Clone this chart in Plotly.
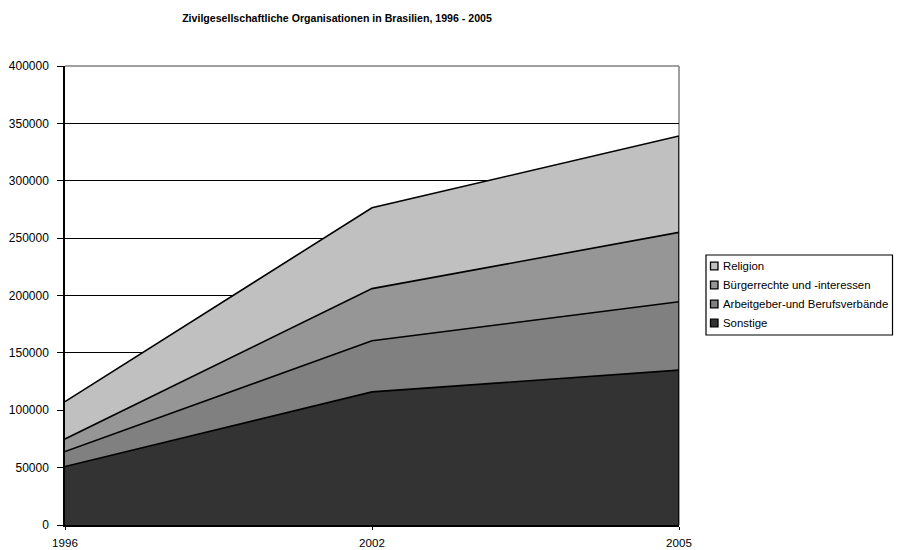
import plotly.graph_objects as go

years = ["1996", "2002", "2005"]
sonstige = [51000, 116000, 135000]
arbeitgeber = [13000, 44500, 59500]
buerger = [11000, 45500, 60500]
religion = [32500, 70500, 84000]

series = [
    ("Sonstige", sonstige, "#333333"),
    ("Arbeitgeber-und Berufsverbände", arbeitgeber, "#808080"),
    ("Bürgerrechte und -interessen", buerger, "#969696"),
    ("Religion", religion, "#c0c0c0"),
]

xpos = list(range(len(years)))
FONT = "Liberation Sans, Arial, sans-serif"

# page offset of the plot div (body margin)
OFF = 8
FW, FH = 902 - OFF, 550 - OFF
# plot-area geometry (target pixels in the window)
L, R, T, B = 65, 679, 66, 525
W, H = R - L, B - T


def px_x(p):
    return (p - L) / W


def px_y(p):
    return (B - p) / H


fig = go.Figure()
for name, vals, col in series:
    fig.add_trace(go.Scatter(
        x=xpos, y=vals, stackgroup="one", name=name,
        mode="lines", line=dict(color="black", width=1.6),
        fillcolor=col, showlegend=False, hoverinfo="skip",
    ))

# right edge of the stacked areas
total_last = sum(v[-1] for _, v, _ in series)
fig.add_trace(go.Scatter(x=[xpos[-1], xpos[-1]], y=[0, total_last], mode="lines",
                         line=dict(color="black", width=1.6), showlegend=False,
                         hoverinfo="skip"))

shapes = [
    dict(type="line", xref="paper", yref="paper", x0=0, x1=1, y0=1, y1=1,
         line=dict(color="#808080", width=1.5), layer="above"),
    dict(type="line", xref="paper", yref="paper", x0=1, x1=1, y0=0, y1=1,
         line=dict(color="#808080", width=1.5), layer="below"),
    # legend box
    dict(type="rect", xref="paper", yref="paper",
         x0=px_x(706), x1=px_x(892.5), y0=px_y(255), y1=px_y(335),
         line=dict(color="black", width=1.2), fillcolor="white", layer="above"),
]
annotations = []
legend_rows = [266, 285, 304, 323]
for (name, vals, col), yc in zip(reversed(series), legend_rows):
    shapes.append(dict(type="rect", xref="paper", yref="paper",
                       x0=px_x(710.5), x1=px_x(718), y0=px_y(yc - 3.8), y1=px_y(yc + 3.8),
                       line=dict(color="black", width=1.3), fillcolor=col, layer="above"))
    annotations.append(dict(text=name, xref="paper", yref="paper",
                            x=px_x(720.5), y=px_y(yc), xanchor="left", yanchor="middle",
                            showarrow=False, font=dict(size=11.4, family=FONT, color="black")))

fig.update_layout(
    width=FW, height=FH,
    margin=dict(l=L - OFF, r=902 - R, t=T - OFF, b=550 - B, autoexpand=False),
    paper_bgcolor="white", plot_bgcolor="white",
    font=dict(family=FONT, size=12, color="black"),
    title=dict(text="<b>Zivilgesellschaftliche Organisationen in Brasilien, 1996 - 2005</b>",
               x=(337 - OFF) / FW, xanchor="center", y=1 - (18 - OFF) / FH, yanchor="middle",
               font=dict(size=10.6, family=FONT)),
    showlegend=False,
    shapes=shapes,
    annotations=annotations,
)

fig.update_xaxes(
    range=[0, len(years) - 1], tickvals=xpos, ticktext=years,
    showline=True, linecolor="black", linewidth=2,
    ticks="outside", ticklen=3, tickcolor="black", showgrid=False, zeroline=False,
    tickfont=dict(size=11.6, family=FONT), ticklabelstandoff=3, automargin=False,
)
fig.update_yaxes(
    range=[0, 400000], dtick=50000, tickformat="d",
    showline=True, linecolor="black", linewidth=1.5,
    ticks="outside", ticklen=6, tickcolor="black",
    showgrid=True, gridcolor="black", gridwidth=1, zeroline=False,
    tickfont=dict(size=12, family=FONT), ticklabelstandoff=6, automargin=False,
)

fig.write_html("out.html")
